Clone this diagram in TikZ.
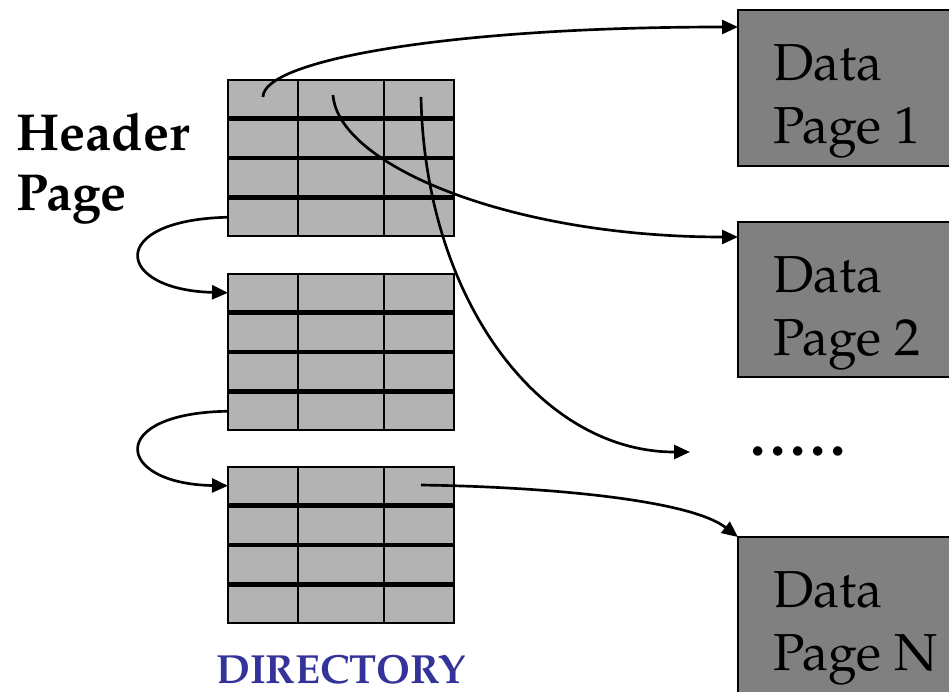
\documentclass[tikz,border=0pt]{standalone}
\usepackage{fontspec}
\setmainfont{TeX Gyre Pagella}
\usetikzlibrary{arrows.meta,calc}
\definecolor{dirgray}{HTML}{B3B3B3}
\definecolor{datagray}{HTML}{808080}
\definecolor{dirblue}{HTML}{333399}
\begin{document}
\begin{tikzpicture}[x=0.75pt,y=-0.75pt,
  dirrow/.style={draw=black,line width=1.9pt,fill=dirgray,anchor=north west,
    minimum width=169.5pt,minimum height=28.1pt,inner sep=0pt,outer sep=0pt},
  datapage/.style={draw=black,line width=1.6pt,fill=datagray,anchor=north west,
    minimum width=175pt,inner sep=0pt,outer sep=0pt},
  bigtext/.style={anchor=base west,inner sep=0pt,font=\fontsize{39}{46}\selectfont},
  link/.style={line width=2pt,-{Triangle[length=12pt,width=10.5pt]}},
  divider/.style={line width=1.9pt}
]
\useasboundingbox (0,0) rectangle (949,692);

% directory blocks
\foreach \b/\t in {1/80,2/274,3/467}{
  \foreach \r in {1,2,3,4}{
    \node[dirrow] (b\b r\r) at (228,{\t+(\r-1)*39.5}) {};
  }
  \draw[divider] (298,\t) -- (298,\t+156);
  \draw[divider] (384,\t) -- (384,\t+156);
}

% data pages
\node[datapage,minimum height=117pt] (dp1) at (738,10) {};
\node[datapage,minimum height=116.25pt] (dp2) at (738,222) {};
\node[datapage,minimum height=130pt] (dpN) at (738,537) {};

\node[bigtext] (dp1a) at (773,80) {Data};
\node[bigtext] (dp1b) at (773,143) {Page 1};
\node[bigtext] (dp2a) at (773,292) {Data};
\node[bigtext] (dp2b) at (773,355) {Page 2};
\node[bigtext] (dpNa) at (773,607) {Data};
\node[bigtext] (dpNb) at (773,670) {Page N};

\node[anchor=base west,inner sep=0pt,font=\fontsize{46}{46}\selectfont\bfseries] (dots) at (750,455) {.\hspace{3.5pt}.\hspace{3.5pt}.\hspace{3.5pt}.\hspace{3.5pt}.};

% labels
\node[bigtext] (hdr1) at (16,150) {\bfseries Header};
\node[bigtext] (hdr2) at (16,210) {\bfseries Page};
\node[anchor=base west,inner sep=0pt,text=dirblue,font=\fontsize{30.5}{36}\selectfont\bfseries] (dirlab) at (216,683) {DIRECTORY};

% pointer start points
\coordinate (c1) at (263,97);
\coordinate (c2) at (333,95);
\coordinate (c3) at (421,97);
\coordinate (c4) at (421,485);
\coordinate (dotsin) at (690,452);

% connectors
\draw[link] (c1) .. controls (263,60) and (450,27) .. ($(dp1.north west)+(0,17)$);
\draw[link] (c2) .. controls (338,165) and (510,237) .. ($(dp2.north west)+(0,15)$);
\draw[link] (c3) .. controls (425,300) and (540,452) .. (dotsin);
\draw[link] (c4) .. controls (550,487) and (690,500) .. (dpN.north west);
\draw[link] (b1r4.west) .. controls (105,220) and (115,290) .. (b2r1.west);
\draw[link] (b2r4.west) .. controls (105,413) and (115,484) .. (b3r1.west);
\end{tikzpicture}
\end{document}
